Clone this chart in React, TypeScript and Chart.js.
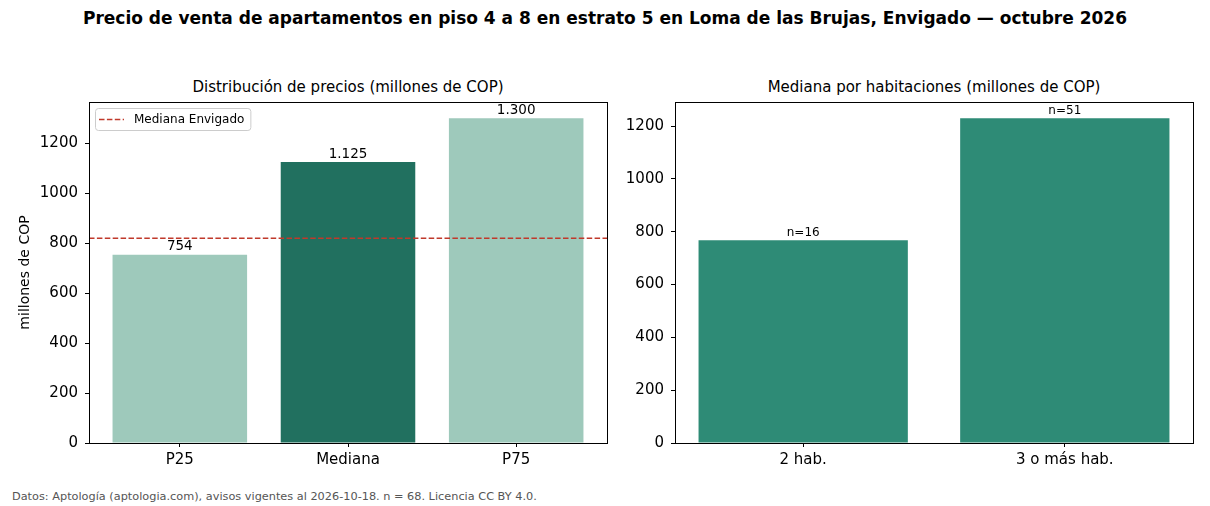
import React, { useEffect, useRef } from "react";
import { Chart, registerables } from "chart.js";

Chart.register(...registerables);

// Price distribution (millions of COP)
const PRICE_LABELS = ["P25", "Mediana", "P75"];
const PRICE_VALUES = [754, 1125, 1300];
const PRICE_COLORS = ["#9ec9bb", "#21705f", "#9ec9bb"];

// Municipal reference median
const ENVIGADO_LABEL = "Mediana Envigado";
const ENVIGADO_MEDIAN = 820;

// Median by number of bedrooms
const ROOM_LABELS = ["2 hab.", "3 o más hab."];
const ROOM_VALUES = [768, 1230];
const ROOM_COUNTS = [16, 51];
const ROOM_COLOR = "#2e8b76";

const Y_TICKS = [0, 200, 400, 600, 800, 1000, 1200];

const FONT = "'DejaVu Sans', sans-serif";
const REF_LINE = { color: "#c0392b", width: 1.5, dash: [5.5, 2.4] };
const BAR_WIDTH = 0.8;
const MARGIN = 0.05;

const fmtThousands = (v: number) =>
  String(v).replace(/\B(?=(\d{3})+(?!\d))/g, ".");

// Black box around the plotting area (all four spines)
const framePlugin = {
  id: "frame",
  afterDraw(chart: any) {
    const { ctx, chartArea: a } = chart;
    ctx.save();
    ctx.strokeStyle = "#000";
    ctx.lineWidth = 1;
    ctx.strokeRect(
      Math.round(a.left) + 0.5,
      Math.round(a.top) + 0.5,
      Math.round(a.right - a.left),
      Math.round(a.bottom - a.top)
    );
    ctx.restore();
  },
};

// Horizontal reference line across the whole plot, placed with the y scale
const refLinePlugin = {
  id: "refLine",
  afterDatasetsDraw(chart: any, _args: any, opts: any) {
    if (!opts || opts.value == null) return;
    const { ctx, chartArea: a } = chart;
    const y = chart.scales.y.getPixelForValue(opts.value);
    ctx.save();
    ctx.beginPath();
    ctx.setLineDash(REF_LINE.dash);
    ctx.strokeStyle = REF_LINE.color;
    ctx.lineWidth = REF_LINE.width;
    ctx.moveTo(a.left, y);
    ctx.lineTo(a.right, y);
    ctx.stroke();
    ctx.restore();
  },
};

// Text above each bar
const barLabelPlugin = {
  id: "barLabels",
  afterDatasetsDraw(chart: any, _args: any, opts: any) {
    if (!opts || !opts.texts) return;
    const meta = chart.getDatasetMeta(0);
    const { ctx } = chart;
    ctx.save();
    ctx.fillStyle = "#000";
    ctx.font = `${opts.size}px ${FONT}`;
    ctx.textAlign = "center";
    ctx.textBaseline = "bottom";
    meta.data.forEach((el: any, i: number) => {
      ctx.fillText(opts.texts[i], el.x, el.y - (opts.gap ?? 1));
    });
    ctx.restore();
  },
};

// Legend box inside the upper-left corner of the plot
const insideLegendPlugin = {
  id: "insideLegend",
  afterDraw(chart: any, _args: any, opts: any) {
    if (!opts || !opts.label) return;
    const { ctx, chartArea: a } = chart;
    const x = a.left + 6;
    const y = a.top + 6;
    ctx.save();
    ctx.font = `12px ${FONT}`;
    const tw = ctx.measureText(opts.label).width;
    const w = 39 + tw + 6;
    const h = 22;
    ctx.beginPath();
    ctx.roundRect(x + 0.5, y + 0.5, w, h, 3);
    ctx.fillStyle = "rgba(255,255,255,0.85)";
    ctx.fill();
    ctx.strokeStyle = "#cccccc";
    ctx.lineWidth = 1;
    ctx.stroke();
    ctx.beginPath();
    ctx.setLineDash(REF_LINE.dash);
    ctx.strokeStyle = REF_LINE.color;
    ctx.lineWidth = REF_LINE.width;
    ctx.moveTo(x + 4, y + h / 2 + 0.5);
    ctx.lineTo(x + 29, y + h / 2 + 0.5);
    ctx.stroke();
    ctx.setLineDash([]);
    ctx.fillStyle = "#000";
    ctx.textBaseline = "middle";
    ctx.fillText(opts.label, x + 39, y + h / 2 + 1);
    ctx.restore();
  },
};

function axisOptions(labels: string[], yMax: number, yAxisWidth: number, xAxisHeight: number, yTitle?: string) {
  // x limits: bar extents plus a 5% margin on each side
  const lo = -BAR_WIDTH / 2;
  const hi = labels.length - 1 + BAR_WIDTH / 2;
  const pad = (hi - lo) * MARGIN;
  return {
    x: {
      type: "linear",
      min: lo - pad,
      max: hi + pad,
      offset: false,
      grid: {
        display: true,
        offset: false,
        drawOnChartArea: false,
        drawTicks: true,
        tickLength: 4,
        color: "#000",
      },
      border: { display: false },
      ticks: {
        color: "#000",
        font: { family: FONT, size: 15 },
        padding: 4,
        maxRotation: 0,
        autoSkip: false,
        callback: (v: number) => labels[v] ?? "",
      },
      afterBuildTicks(scale: any) {
        scale.ticks = labels.map((_, i) => ({ value: i }));
      },
      afterFit(scale: any) {
        scale.height = xAxisHeight;
      },
    },
    y: {
      type: "linear",
      min: 0,
      max: yMax,
      grid: {
        display: true,
        offset: false,
        drawOnChartArea: false,
        drawTicks: true,
        tickLength: 4,
        color: "#000",
      },
      border: { display: false },
      ticks: {
        color: "#000",
        font: { family: FONT, size: 15 },
        padding: 7,
        callback: (v: number) => String(v),
      },
      afterBuildTicks(scale: any) {
        scale.ticks = Y_TICKS.map((v) => ({ value: v }));
      },
      afterFit(scale: any) {
        scale.width = yAxisWidth;
      },
      title: yTitle
        ? { display: true, text: yTitle, color: "#000", font: { family: FONT, size: 14 }, padding: { top: 17, bottom: 0 } }
        : { display: false },
    },
  };
}

const toPoints = (values: number[]) => values.map((y, x) => ({ x, y }));

export default function App() {
  const leftRef = useRef<HTMLCanvasElement | null>(null);
  const rightRef = useRef<HTMLCanvasElement | null>(null);

  useEffect(() => {
    const left = new Chart(leftRef.current as HTMLCanvasElement, {
      type: "bar",
      data: {
        datasets: [
          {
            data: toPoints(PRICE_VALUES),
            backgroundColor: PRICE_COLORS,
            categoryPercentage: 1,
            barPercentage: BAR_WIDTH,
          } as any,
        ],
      },
      options: {
        animation: false,
        responsive: false,
        maintainAspectRatio: false,
        layout: { padding: { top: 42, right: 8, left: 0, bottom: 0 } },
        scales: axisOptions(PRICE_LABELS, Math.max(...PRICE_VALUES) * 1.05, 89, 37, "millones de COP") as any,
        plugins: {
          legend: { display: false },
          tooltip: { enabled: false },
          barLabels: { texts: PRICE_VALUES.map(fmtThousands), size: 13.5, gap: 1 },
          refLine: { value: ENVIGADO_MEDIAN },
          insideLegend: { label: ENVIGADO_LABEL },
        } as any,
      },
      plugins: [barLabelPlugin, refLinePlugin, framePlugin, insideLegendPlugin],
    });

    const right = new Chart(rightRef.current as HTMLCanvasElement, {
      type: "bar",
      data: {
        datasets: [
          {
            data: toPoints(ROOM_VALUES),
            backgroundColor: ROOM_COLOR,
            categoryPercentage: 1,
            barPercentage: BAR_WIDTH,
          } as any,
        ],
      },
      options: {
        animation: false,
        responsive: false,
        maintainAspectRatio: false,
        layout: { padding: { top: 42, right: 17, left: 0, bottom: 0 } },
        scales: axisOptions(ROOM_LABELS, Math.max(...ROOM_VALUES) * 1.05, 60, 37) as any,
        plugins: {
          legend: { display: false },
          tooltip: { enabled: false },
          barLabels: { texts: ROOM_COUNTS.map((n) => `n=${n}`), size: 12, gap: 1 },
        } as any,
      },
      plugins: [framePlugin, barLabelPlugin],
    });

    return () => {
      left.destroy();
      right.destroy();
    };
  }, []);

  const subTitle = (left: number): React.CSSProperties => ({
    position: "absolute",
    left,
    width: 518,
    top: 78,
    textAlign: "center",
    fontSize: 15,
    lineHeight: "18px",
    whiteSpace: "nowrap",
  });

  return (
    <div
      style={{
        position: "absolute",
        left: 0,
        top: 0,
        width: 1210,
        height: 506,
        background: "#fff",
        fontFamily: FONT,
        color: "#000",
        overflow: "hidden",
      }}
    >
      <div
        style={{
          position: "absolute",
          left: 0,
          top: 8,
          width: 1210,
          textAlign: "center",
          fontWeight: "bold",
          fontSize: 17,
          lineHeight: "20px",
          whiteSpace: "nowrap",
        }}
      >
        Precio de venta de apartamentos en piso 4 a 8 en estrato 5 en Loma de las Brujas, Envigado — octubre 2026
      </div>
      <div style={subTitle(89)}>Distribución de precios (millones de COP)</div>
      <div style={subTitle(675)}>Mediana por habitaciones (millones de COP)</div>
      <div style={{ position: "absolute", left: 0, top: 60, width: 615, height: 420 }}>
        <canvas ref={leftRef} width={615} height={420} style={{ display: "block" }} />
      </div>
      <div style={{ position: "absolute", left: 615, top: 60, width: 595, height: 420 }}>
        <canvas ref={rightRef} width={595} height={420} style={{ display: "block" }} />
      </div>
      <div
        style={{
          position: "absolute",
          left: 12,
          top: 490,
          fontSize: 11.3,
          lineHeight: "14px",
          color: "#555",
          whiteSpace: "nowrap",
        }}
      >
        Datos: Aptología (aptologia.com), avisos vigentes al 2026-10-18. n = 68. Licencia CC BY 4.0.
      </div>
    </div>
  );
}
